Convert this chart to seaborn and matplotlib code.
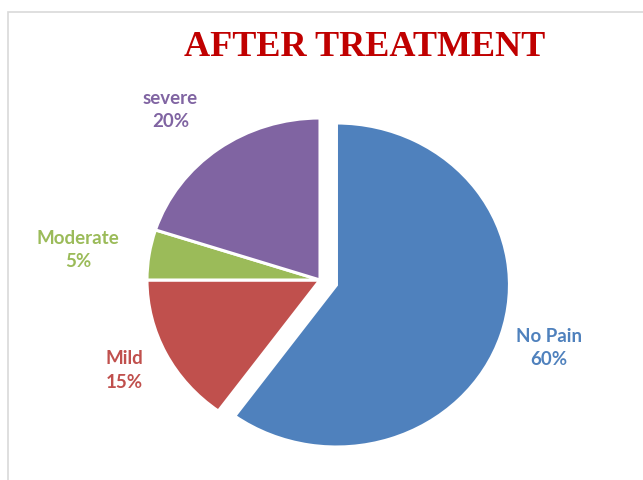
import numpy as np
import matplotlib
matplotlib.use("Agg")
import matplotlib.pyplot as plt
from matplotlib.patches import Rectangle
import seaborn as sns

categories = ["No Pain", "Mild", "Moderate", "severe"]
values = [60, 15, 5, 20]
colors = ["#4F81BD", "#C0504D", "#9BBB59", "#8064A2"]
text_colors = ["#4F81BD", "#C0504D", "#9BBB59", "#8064A2"]
explode = [0.1, 0, 0, 0]
label_dist = [1.36, 1.26, 1.41, 1.36]
label_angle_shift = [0, -0.7, 1.5, 3.5]
title = "AFTER TREATMENT"

sns.set_theme(style="white")
plt.rcParams["font.family"] = ["Lato", "DejaVu Sans"]

W, H = 643, 480
fig = plt.figure(figsize=(W / 100, H / 100), dpi=100)
fig.patch.set_facecolor("white")

# pie centre at pixel (320, 280 from top); scale 173 px/unit horizontally, 162 px/unit vertically
cx, cy = 320, 480 - 280
sx, sy = 173, 162
xa, ya = 1.55, 1.2
ax = fig.add_axes([(cx - xa * sx) / W, (cy - ya * sy) / H, 2 * xa * sx / W, 2 * ya * sy / H])

wedges, _ = ax.pie(values, colors=colors, startangle=90, counterclock=False,
                   explode=explode, radius=1,
                   wedgeprops=dict(edgecolor="white", linewidth=2.2))
ax.set_aspect("auto")
ax.set_xlim(-xa, xa)
ax.set_ylim(-ya, ya)
ax.axis("off")

for w, cat, v, d, da, tc, ex in zip(wedges, categories, values, label_dist,
                                    label_angle_shift, text_colors, explode):
    mid = np.deg2rad((w.theta1 + w.theta2) / 2 + da)
    x = (d + ex * 0.3) * np.cos(mid)
    y = d * np.sin(mid)
    ax.text(x, y, f"{cat}\n{v}%", ha="center", va="center", color=tc,
            fontsize=13.5, linespacing=1.45, fontweight="bold")

fig.text(365 / W, 1 - 48 / H, title, ha="center", va="center",
         fontsize=26, fontweight="bold", color="#C00000",
         family=["Liberation Serif", "DejaVu Serif"])

fig.patches.append(Rectangle((8 / W, -0.1), 1.0, (H - 12) / H + 0.1,
                             transform=fig.transFigure, fill=False,
                             edgecolor="#d9d9d9", linewidth=1.2))

fig.savefig("out.png", dpi=100)
